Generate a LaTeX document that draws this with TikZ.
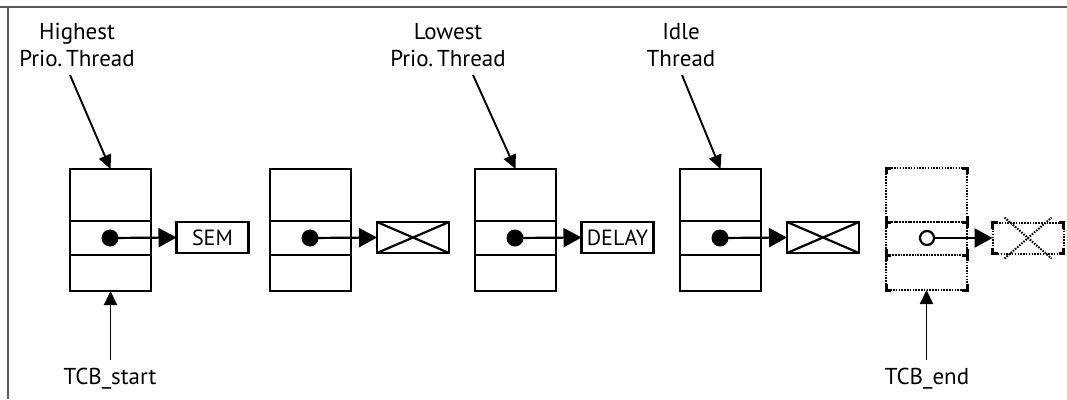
\documentclass[tikz,border=0pt]{standalone}
\usepackage{fontspec}
\setmainfont{PT Sans}
\usetikzlibrary{arrows.meta}
\begin{document}
\begin{tikzpicture}[x=1pt,y=-1pt,
  cell/.style={draw,line width=2.6pt,minimum width=81pt,inner sep=0pt,outer sep=0pt},
  ghost/.style={minimum width=81pt,inner sep=0pt,outer sep=0pt},
  ptr/.style={draw,line width=2.6pt,minimum width=72pt,minimum height=31pt,inner sep=0pt,outer sep=0pt,font=\fontsize{22}{24}\selectfont},
  gptr/.style={minimum width=71pt,minimum height=31pt,inner sep=0pt,outer sep=0pt},
  lbl/.style={font=\fontsize{23}{27}\selectfont,align=center,inner sep=0pt},
  link/.style={line width=2.2pt,-{Triangle[length=18pt,width=19pt]}},
  point/.style={line width=1.9pt,-{Triangle[length=14pt,width=13pt]}},
  dotline/.style={line width=2pt,dash pattern=on 1.5pt off 1.3pt},
  crn/.style={line width=3pt}
]
\useasboundingbox (0,0) rectangle (1067,399);
\draw[line width=2.2pt,draw=black!65] (0,7) -- (1067,7);
\draw[line width=1.6pt,draw=black!65] (8,7) -- (8,399);

% thread columns
\foreach \i/\x in {1/110.5,2/310.5,3/515.5,4/720.5}{
  \node[cell,minimum height=52pt] (top\i) at (\x,195) {};
  \node[cell,minimum height=34pt] (mid\i) at (\x,238) {};
  \node[cell,minimum height=36pt] (bot\i) at (\x,273) {};
  \fill (\x-0.5,238) circle (8.5pt) coordinate (dot\i);
}
% pointer targets
\node[ptr] (sem) at (212.5,237.5) {SEM};
\node[ptr] (x2) at (413,237.5) {};
\node[ptr] (delay) at (617.5,237.5) {DELAY};
\node[ptr] (x4) at (823,237.5) {};
\draw[line width=2.2pt] (x2.north west) -- (x2.south east) (x2.south west) -- (x2.north east);
\draw[line width=2.2pt] (x4.north west) -- (x4.south east) (x4.south west) -- (x4.north east);

\draw[link] (dot1) -- (sem.west);
\draw[link] (dot2) -- (x2.west);
\draw[link] (dot3) -- (delay.west);
\draw[link] (dot4) -- (x4.west);

% ghost (end) element
\node[ghost,minimum height=54pt] (top5) at (926.5,195) {};
\node[ghost,minimum height=33pt] (mid5) at (926.5,238.5) {};
\node[ghost,minimum height=35pt] (bot5) at (926.5,272.5) {};
\node[gptr] (x5) at (1028,238) {};
\foreach \n in {top5,mid5,bot5,x5}{
  \draw[dotline] (\n.north west) rectangle (\n.south east);
  \draw[crn] ([yshift=-6pt]\n.north west) -- (\n.north west) -- ([xshift=5pt]\n.north west);
  \draw[crn] ([yshift=-6pt]\n.north east) -- (\n.north east) -- ([xshift=-5pt]\n.north east);
  \draw[crn] ([yshift=6pt]\n.south west) -- (\n.south west) -- ([xshift=5pt]\n.south west);
  \draw[crn] ([yshift=6pt]\n.south east) -- (\n.south east) -- ([xshift=-5pt]\n.south east);
}
\draw[dotline] ([shift={(12pt,5pt)}]x5.north west) -- ([shift={(-12pt,-5pt)}]x5.south east)
               ([shift={(12pt,-5pt)}]x5.south west) -- ([shift={(-12pt,5pt)}]x5.north east);
\draw[line width=2.2pt] (927,238) circle (7pt);
\coordinate (dot5) at (934,238);
\draw[link] (dot5) -- (x5.west);

% top labels
\node[lbl] (hl) at (77,45) {Highest\\Prio.\,Thread};
\node[lbl] (ll) at (448,45) {Lowest\\Prio.\,Thread};
\node[lbl] (il) at (681,45) {Idle\\Thread};
\coordinate (hs) at (70,75);
\coordinate (ls) at (473,75);
\coordinate (is) at (682,75);
\draw[point] (hs) -- (top1.north);
\draw[point] (ls) -- (top3.north);
\draw[point] (is) -- (top4.north);

% bottom labels
\node[lbl] (ts) at (110,379) {TCB\_start};
\node[lbl] (te) at (927,379) {TCB\_end};
\coordinate (tsa) at (110.5,360);
\coordinate (tea) at (926.5,360);
\draw[point] (tsa) -- (bot1.south);
\draw[point] (tea) -- (bot5.south);
\end{tikzpicture}
\end{document}
